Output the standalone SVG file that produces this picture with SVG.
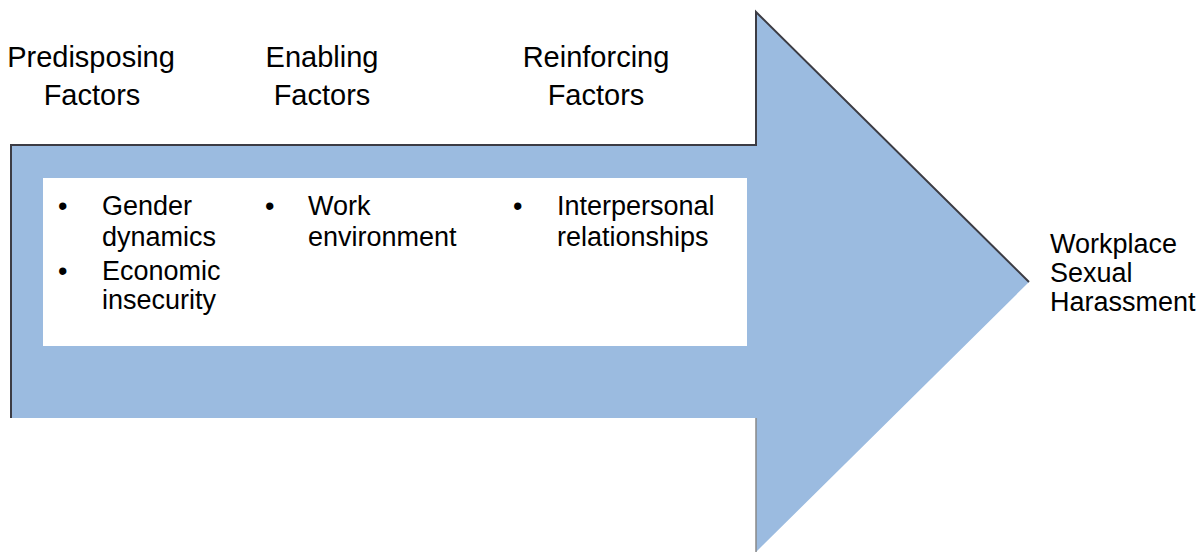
<svg xmlns="http://www.w3.org/2000/svg" width="1204" height="552" viewBox="0 0 1204 552">
<style>
.t{font-family:"Liberation Sans",Arial,sans-serif;fill:#000}
.h{font-size:29px}
.b{font-size:27px}
</style>
<rect width="1204" height="552" fill="#fff"/>
<g id="arrow">
<polygon points="11,145 756,145 756,12 1029,282 756,552 756,418 11,418" fill="#9bbbe0"/>
<polyline points="11,418 11,145 756,145 756,12 1029,282" fill="none" stroke="#3c3c44" stroke-width="2"/>
<line x1="756" y1="418" x2="756" y2="552" stroke="#888" stroke-width="1.5"/>
</g>
<g id="factors-box">
<rect x="43" y="178" width="704" height="168" fill="#fff"/>
</g>
<g id="predisposing">
<text class="t h" text-anchor="middle" x="91" y="67">Predisposing</text>
<text class="t h" text-anchor="middle" x="92" y="105">Factors</text>
<text class="t b" x="58" y="215">•</text><text class="t b" x="102" y="215">Gender</text>
<text class="t b" x="102" y="246">dynamics</text>
<text class="t b" x="58" y="280">•</text><text class="t b" x="102" y="280">Economic</text>
<text class="t b" x="102" y="309">insecurity</text>
</g>
<g id="enabling">
<text class="t h" text-anchor="middle" x="322" y="67">Enabling</text>
<text class="t h" text-anchor="middle" x="322" y="105">Factors</text>
<text class="t b" x="265" y="215">•</text><text class="t b" x="308" y="215">Work</text>
<text class="t b" x="308" y="246">environment</text>
</g>
<g id="reinforcing">
<text class="t h" text-anchor="middle" x="596" y="67">Reinforcing</text>
<text class="t h" text-anchor="middle" x="596" y="105">Factors</text>
<text class="t b" x="513" y="215">•</text><text class="t b" x="557" y="215">Interpersonal</text>
<text class="t b" x="557" y="246">relationships</text>
</g>
<g id="outcome">
<text class="t b" x="1050" y="253">Workplace</text>
<text class="t b" x="1050" y="282">Sexual</text>
<text class="t b" x="1050" y="311">Harassment</text>
</g>
<g id="connectors"></g>
</svg>
